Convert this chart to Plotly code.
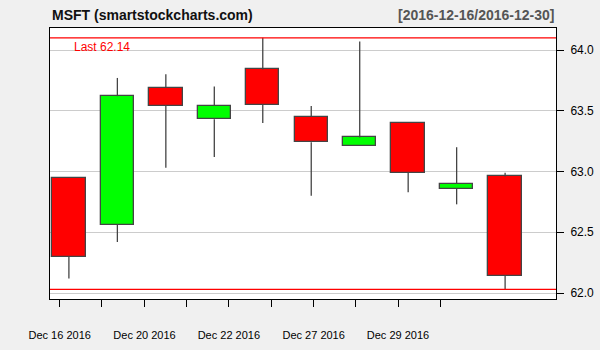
import plotly.graph_objects as go

dates = ["2016-12-16", "2016-12-19", "2016-12-20", "2016-12-21", "2016-12-22",
         "2016-12-23", "2016-12-27", "2016-12-28", "2016-12-29", "2016-12-30"]
opens = [62.95, 62.56, 63.69, 63.43, 63.84, 63.45, 63.21, 63.40, 62.86, 62.96]
highs = [62.95, 63.77, 63.80, 63.70, 64.10, 63.54, 64.07, 63.40, 63.20, 62.99]
lows = [62.12, 62.42, 63.03, 63.12, 63.40, 62.80, 63.21, 62.83, 62.73, 62.03]
closes = [62.30, 63.62, 63.54, 63.54, 63.55, 63.24, 63.28, 62.99, 62.90, 62.14]

tick_pos = [-0.19, 0.68, 1.56, 2.43, 3.30, 4.17, 5.05, 5.92, 6.79, 7.66]
tick_labels = ["Dec 16 2016", "", "Dec 20 2016", "", "Dec 22 2016", "",
               "Dec 27 2016", "", "Dec 29 2016", ""]
y_ticks = [62.0, 62.5, 63.0, 63.5, 64.0]

xs = list(range(len(dates)))
fig = go.Figure()

# wicks
wx, wy = [], []
for i in xs:
    top = max(opens[i], closes[i])
    bot = min(opens[i], closes[i])
    if highs[i] > top:
        wx += [i, i, None]
        wy += [top, highs[i], None]
    if lows[i] < bot:
        wx += [i, i, None]
        wy += [bot, lows[i], None]
fig.add_trace(go.Scatter(x=wx, y=wy, mode="lines",
                         line=dict(color="#444444", width=1.3),
                         hoverinfo="skip", showlegend=False))

colors = ["#00ff00" if c > o else "#ff0000" for o, c in zip(opens, closes)]
fig.add_trace(go.Bar(x=xs,
                     base=[min(o, c) for o, c in zip(opens, closes)],
                     y=[abs(c - o) for o, c in zip(opens, closes)],
                     width=0.69,
                     marker=dict(color=colors, line=dict(color="#444444", width=1.3)),
                     showlegend=False))

for v in (max(highs), min(lows)):
    fig.add_shape(type="line", xref="paper", x0=0, x1=1, yref="y", y0=v, y1=v,
                  line=dict(color="#ff0000", width=1.3), layer="above")

fig.add_annotation(text="Last %.2f" % closes[-1], xref="paper", yref="y",
                   x=0.043, y=max(highs), xanchor="left", yanchor="top",
                   showarrow=False, font=dict(color="#ff0000", size=12,
                                              family="Liberation Sans, Arial"))
fig.add_annotation(text="<b>MSFT (smartstockcharts.com)</b>", xref="paper", yref="paper",
                   x=0, y=1, xanchor="left", yanchor="bottom", yshift=3,
                   showarrow=False, font=dict(color="#111111", size=14,
                                              family="Liberation Sans, Arial"))
fig.add_annotation(text="<b>[%s/%s]</b>" % (dates[0], dates[-1]), xref="paper", yref="paper",
                   x=1, y=1, xanchor="right", yanchor="bottom", yshift=3,
                   showarrow=False, font=dict(color="#555555", size=14,
                                              family="Liberation Sans, Arial"))

fig.update_layout(
    width=600, height=350,
    margin=dict(l=50, r=44, t=28, b=51),
    paper_bgcolor="#f0f0f0", plot_bgcolor="#ffffff",
    font=dict(family="Liberation Sans, Arial", color="#000000", size=12),
    bargap=0,
    xaxis=dict(range=[-0.39, 10.05], tickmode="array", tickvals=tick_pos,
               ticktext=tick_labels, ticks="outside", ticklen=7, tickcolor="#000",
               showgrid=False, zeroline=False, showline=True, mirror=True,
               linecolor="#000", linewidth=1, automargin=False,
               tickfont=dict(size=11, family="Liberation Sans, Arial"),
               ticklabelstandoff=19),
    yaxis=dict(range=[61.951, 64.181], side="right", tickmode="array",
               tickvals=y_ticks, ticktext=["%.1f" % v for v in y_ticks],
               ticks="outside", ticklen=7, tickcolor="#000",
               showgrid=True, gridcolor="#cccccc", gridwidth=1, zeroline=False,
               showline=True, mirror=True, linecolor="#000", linewidth=1,
               automargin=False, ticklabelstandoff=4),
)

fig.write_html("out.html")
